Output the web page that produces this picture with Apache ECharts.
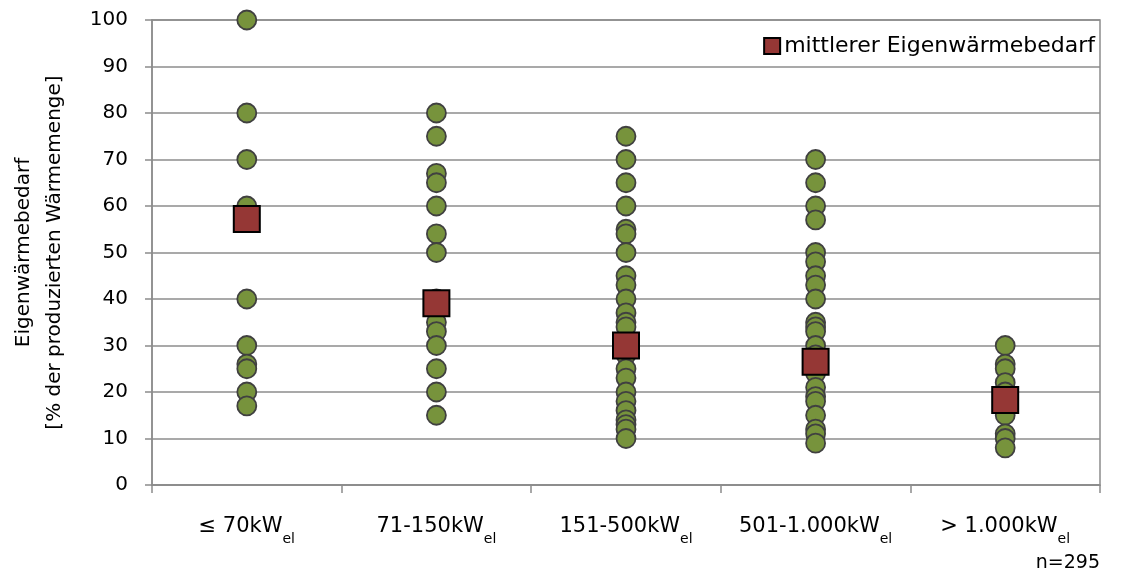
<!DOCTYPE html>
<html><head><meta charset="utf-8">
<script src="https://cdn.jsdelivr.net/npm/echarts@6/dist/echarts.min.js"></script>
<style>html,body{margin:0;padding:0;background:#fff}#c{width:1139px;height:578px}</style>
</head><body><div id="c"></div>
<script>
var categories = ['≤ 70kW', '71-150kW', '151-500kW', '501-1.000kW', '> 1.000kW'];
var yTicks = [0,10,20,30,40,50,60,70,80,90,100];
var vals70 = [100, 80, 70, 60, 40, 30, 26, 25, 20, 17];
var vals150 = [80, 75, 67, 65, 60, 54, 50, 40, 35, 33, 30, 25, 20, 15];
var vals500 = [75, 70, 65, 60, 55, 54, 50, 45, 43, 40, 37, 35, 34, 30, 28, 25, 23, 20, 18, 16, 14, 13, 12, 10];
var vals1000 = [70, 65, 60, 57, 50, 48, 45, 43, 40, 35, 34, 33, 30, 28, 24, 21, 19, 18, 15, 12, 11, 9];
var valsOver = [30, 26, 25, 22, 20, 17, 15, 11, 10, 8];
var meanValues = [57.2, 39.1, 30.0, 26.5, 18.3];
var seriesName = 'mittlerer Eigenwärmebedarf';
var noteText = 'n=295';

var FONT = 'DejaVu Sans, Liberation Sans, sans-serif';
var groups = [vals70, vals150, vals500, vals1000, valsOver];
var pts = [];
groups.forEach(function(g, i){ g.forEach(function(v){ pts.push([categories[i], v]); }); });
var means = meanValues.map(function(v, i){ return [categories[i], v]; });

var chart = echarts.init(document.getElementById('c'));
chart.setOption({
  animation: false,
  textStyle: {fontFamily: FONT},
  grid: {left: 150, right: 39, top: 20, bottom: 93, show: true, borderColor: '#8c8c8c', borderWidth: 1.5, backgroundColor: 'transparent'},
  legend: {
    data: [{name: seriesName, icon: 'rect'}],
    right: 44, top: 35, itemWidth: 16, itemHeight: 16, itemGap: 2, padding: 0,
    textStyle: {fontSize: 22, color: '#000', fontFamily: FONT, padding: [0,0,0,-1]}
  },
  xAxis: {
    type: 'category', data: categories, boundaryGap: true,
    axisLine: {lineStyle: {color: '#8c8c8c', width: 1.5}},
    axisTick: {show: true, interval: 0, length: 8, lineStyle: {color: '#8c8c8c', width: 1.5}},
    splitLine: {show: false},
    axisLabel: {
      interval: 0, margin: 31, color: '#000',
      formatter: function(v){ return '{m|' + v + '}{s|el}'; },
      rich: {
        m: {fontSize: 21, color: '#000', fontFamily: FONT},
        s: {fontSize: 14, color: '#000', verticalAlign: 'bottom', padding: [0,0,-9,0], fontFamily: FONT}
      }
    }
  },
  yAxis: {
    type: 'value', min: 0, max: 100, interval: 10,
    name: 'Eigenwärmebedarf\n[% der produzierten Wärmemenge]',
    nameLocation: 'middle', nameGap: 82, nameRotate: 90,
    nameTextStyle: {fontSize: 20, color: '#000', lineHeight: 31, fontFamily: FONT},
    axisLine: {show: true, lineStyle: {color: '#8c8c8c', width: 1.5}},
    axisTick: {show: true, length: 7, lineStyle: {color: '#8c8c8c', width: 1.5}},
    splitLine: {show: true, lineStyle: {color: '#8c8c8c', width: 1.5}},
    axisLabel: {margin: 24, color: '#000', fontSize: 20, fontFamily: FONT, formatter: function(v){ return yTicks.indexOf(v) >= 0 ? String(v) : ''; }}
  },
  series: [
    {type: 'scatter', name: 'Einzelwerte', data: pts, symbol: 'circle', symbolSize: 19,
     itemStyle: {color: '#77933c', borderColor: '#404040', borderWidth: 1.8, opacity: 1}, z: 2},
    {type: 'scatter', name: seriesName, data: means, symbol: 'rect', symbolSize: 26,
     itemStyle: {color: '#953735', borderColor: '#000', borderWidth: 2, opacity: 1}, z: 3}
  ],
  graphic: [{type: 'text', right: 39, top: 554, style: {text: noteText, fontSize: 19, fill: '#000', fontFamily: FONT}}]
});
</script></body></html>
